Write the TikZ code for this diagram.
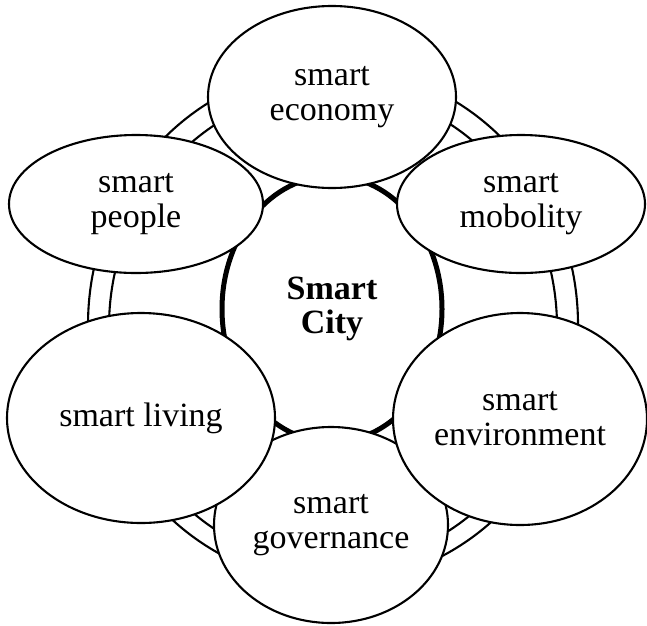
\documentclass[tikz,border=0pt]{standalone}
\usepackage{fontspec}
\setmainfont{Liberation Serif}
\usetikzlibrary{shapes.geometric}
\begin{document}
\begin{tikzpicture}[x=1pt,y=-1pt,
  ring/.style={draw=black,line width=2.1pt},
  hub/.style={ellipse,draw=black,fill=white,line width=5pt,inner sep=0pt,align=center,
    font=\fontsize{34}{34}\selectfont\bfseries},
  sat/.style={ellipse,draw=black,fill=white,line width=2.1pt,inner sep=0pt,align=center,
    font=\fontsize{34}{35}\selectfont}]
\useasboundingbox (0,0) rectangle (647,625);
% double ring
\draw[ring] (333,325) ellipse [x radius=245pt, y radius=258pt];
\draw[ring] (333,327) ellipse [x radius=224pt, y radius=238pt];
% hub
\node[hub, minimum width=220pt, minimum height=266pt] (city) at (332,309) {Smart\\City};
% satellites
\node[sat, minimum width=234pt, minimum height=196pt] (gov) at (331,525) {smart\\governance};
\node[sat, minimum width=248pt, minimum height=182pt] (eco) at (332,97) {smart\\economy};
\node[sat, minimum width=254pt, minimum height=138pt] (peo) at (136,204) {smart\\people};
\node[sat, minimum width=248pt, minimum height=138pt] (mob) at (521,204) {smart\\mobolity};
\node[sat, minimum width=268pt, minimum height=210pt] (liv) at (141,418) {smart living};
\node[sat, minimum width=254pt, minimum height=212pt] (env) at (520,419) {smart\\environment};
\end{tikzpicture}
\end{document}
